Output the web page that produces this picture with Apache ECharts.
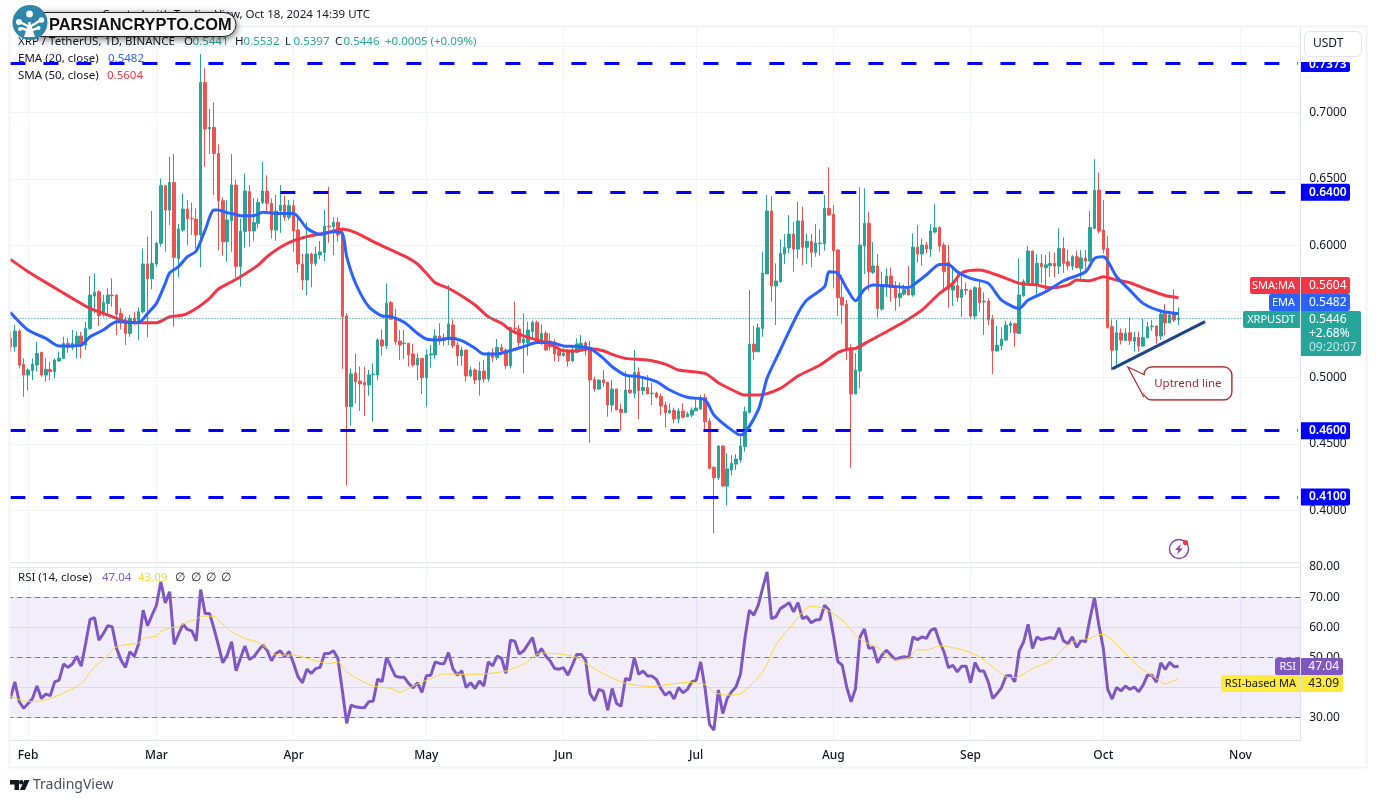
<!DOCTYPE html>
<html><head><meta charset="utf-8">
<style>html,body{margin:0;padding:0;background:#fff}#c{width:1376px;height:803px}</style>
<script src="https://cdn.jsdelivr.net/npm/echarts@6/dist/echarts.min.js"></script>
</head><body><div id="c"></div>
<script>
const opens=[.5297,.5234,.5352,.5100,.5020,.5053,.5096,.5191,.5020,.5063,
.5045,.5126,.5146,.5259,.5226,.5246,.5314,.5246,.5372,.5616,
.5649,.5485,.5561,.5624,.5624,.5485,.5440,.5334,.5448,.5410,
.5498,.5858,.5747,.5858,.6014,.6449,.6265,.6474,.5900,.6114,
.6273,.6202,.6197,.6077,.7229,.6879,.6889,.6693,.6336,.6026,
.6185,.6454,.5838,.6102,.6404,.6107,.6165,.6323,.6409,.6316,
.6114,.6258,.6303,.6210,.6298,.6115,.5858,.5738,.5934,.5863,
.5926,.5944,.6145,.6140,.6173,.6085,.5466,.4781,.5036,.4975,
.4963,.4945,.5023,.5021,.5285,.5240,.5567,.5441,.5277,.5257,
.5260,.5179,.5096,.5146,.5000,.5172,.5172,.5315,.5302,.5285,
.5398,.5247,.5164,.5209,.5013,.5058,.4983,.5051,.4990,.5189,
.5152,.5229,.5209,.5091,.5375,.5368,.5265,.5265,.5348,.5418,
.5272,.5335,.5277,.5234,.5202,.5167,.5197,.5126,.5192,.5214,
.5262,.5227,.4987,.4915,.4982,.4965,.4794,.4915,.4761,.4736,
.4907,.4882,.5040,.4902,.4927,.4879,.4884,.4859,.4794,.4736,
.4753,.4688,.4748,.4706,.4718,.4751,.4764,.4852,.4673,.4323,
.4245,.4484,.4182,.4303,.4348,.4379,.4479,.4736,.5254,.5196,
.5372,.5783,.6258,.5692,.5725,.5933,.5979,.6084,.5971,.6183,
.5984,.6029,.5946,.6012,.6009,.6278,.6233,.5964,.5606,.5554,
.5227,.4877,.5050,.5994,.6165,.5795,.5843,.5518,.5691,.5767,
.5686,.5603,.5631,.5666,.5624,.5986,.5933,.6001,.5971,.6099,
.6132,.6001,.5873,.5661,.5694,.5606,.5666,.5661,.5465,.5679,
.5573,.5578,.5442,.5201,.5241,.5284,.5392,.5407,.5334,.5618,
.5717,.5956,.5699,.5863,.5830,.5845,.5863,.5842,.5976,.5875,
.5842,.5913,.5825,.5903,.5880,.6127,.6416,.6114,.5976,.5385,
.5208,.5337,.5281,.5339,.5276,.5304,.5239,.5301,.5384,.5390,
.5314,.5485,.5415,.5480,.5441];
const closes=[.5234,.5352,.5095,.5020,.5058,.5103,.5183,.5020,.5063,.5045,
.5133,.5148,.5259,.5229,.5259,.5314,.5239,.5372,.5624,.5644,
.5468,.5568,.5624,.5619,.5480,.5430,.5334,.5448,.5415,.5498,
.5858,.5747,.5863,.6014,.6449,.6265,.6474,.5908,.6122,.6273,
.6202,.6200,.6077,.7229,.6877,.6889,.6693,.6336,.6026,.6190,
.6454,.5838,.6107,.6409,.6107,.6170,.6323,.6409,.6316,.6114,
.6258,.6303,.6210,.6298,.6108,.5858,.5738,.5934,.5863,.5934,
.5949,.6145,.6140,.6173,.6077,.5461,.4781,.5028,.4970,.4953,
.4945,.5021,.5028,.5285,.5240,.5562,.5441,.5272,.5247,.5262,
.5172,.5096,.5146,.5000,.5172,.5179,.5315,.5290,.5280,.5406,
.5242,.5164,.5209,.5013,.5058,.4983,.5051,.4990,.5189,.5152,
.5229,.5202,.5091,.5378,.5370,.5265,.5292,.5360,.5418,.5272,
.5335,.5209,.5234,.5179,.5167,.5184,.5126,.5209,.5255,.5260,
.5209,.4982,.4915,.4982,.4962,.4794,.4915,.4756,.4736,.4907,
.4887,.5040,.4902,.4927,.4877,.4884,.4854,.4786,.4736,.4753,
.4688,.4748,.4701,.4726,.4756,.4771,.4852,.4668,.4316,.4245,
.4484,.4182,.4311,.4353,.4386,.4484,.4743,.5254,.5196,.5377,
.5788,.6258,.5692,.5730,.5939,.5984,.6084,.5971,.6183,.5984,
.6029,.5946,.6017,.6017,.6278,.6228,.5959,.5604,.5549,.5209,
.4877,.5058,.6001,.6165,.5800,.5843,.5523,.5694,.5767,.5679,
.5603,.5636,.5666,.5624,.5986,.5933,.6001,.5971,.6107,.6132,
.5993,.5800,.5666,.5694,.5606,.5666,.5661,.5465,.5679,.5566,
.5578,.5435,.5201,.5246,.5291,.5397,.5410,.5339,.5624,.5729,
.5956,.5712,.5863,.5837,.5852,.5863,.5842,.5976,.5863,.5845,
.5913,.5832,.5903,.5880,.6134,.6416,.6107,.5968,.5377,.5208,
.5339,.5284,.5337,.5279,.5304,.5239,.5304,.5384,.5390,.5314,
.5480,.5415,.5473,.5435,.5446];
const highs=[.5347,.5397,.5365,.5146,.5070,.5146,.5271,.5196,.5146,.5121,
.5146,.5196,.5309,.5297,.5360,.5347,.5347,.5422,.5767,.5787,
.5660,.5624,.5674,.5750,.5630,.5523,.5460,.5473,.5498,.5531,
.5976,.6064,.6258,.6026,.6504,.6455,.6668,.6688,.6160,.6391,
.6341,.6321,.6278,.7443,.7335,.7028,.7078,.6761,.6360,.6341,
.6688,.6492,.6202,.6542,.6454,.6353,.6353,.6630,.6527,.6353,
.6379,.6454,.6374,.6341,.6342,.6203,.5934,.6173,.5944,.5989,
.6032,.6266,.6442,.6211,.6211,.6135,.5486,.5071,.5184,.5084,
.5084,.5058,.5109,.5297,.5365,.5712,.5579,.5519,.5360,.5360,
.5260,.5255,.5184,.5146,.5214,.5247,.5365,.5411,.5335,.5700,
.5441,.5272,.5234,.5209,.5084,.5071,.5121,.5134,.5197,.5222,
.5292,.5255,.5222,.5385,.5574,.5398,.5486,.5423,.5431,.5431,
.5403,.5355,.5335,.5290,.5255,.5222,.5214,.5234,.5297,.5323,
.5277,.5277,.5008,.4990,.5058,.4965,.4982,.4915,.4806,.5050,
.5008,.5209,.5078,.5008,.5020,.4962,.4894,.4882,.4819,.4806,
.4774,.4769,.4806,.4743,.4776,.4844,.4869,.4877,.4693,.4333,
.4492,.4492,.4429,.4416,.4424,.4555,.4781,.5662,.5393,.5410,
.5951,.6379,.6371,.5863,.6044,.6084,.6228,.6178,.6328,.6291,
.6089,.6084,.6160,.6120,.6379,.6588,.6303,.5969,.5775,.5586,
.5252,.5184,.6437,.6429,.6253,.6024,.5933,.5800,.5825,.5832,
.5729,.5719,.5704,.5842,.6089,.6152,.6051,.6026,.6159,.6310,
.6144,.6021,.6001,.5842,.5782,.5775,.5717,.5666,.5691,.5724,
.5644,.5598,.5473,.5392,.5380,.5430,.5427,.5415,.5900,.5742,
.5993,.5956,.5933,.5933,.5925,.5951,.5943,.6127,.6059,.5968,
.5925,.5958,.5963,.5963,.6258,.6650,.6549,.6341,.6069,.5440,
.5435,.5372,.5372,.5455,.5347,.5347,.5447,.5422,.5435,.5397,
.5515,.5556,.5505,.5666,.5532];
const lows=[.5196,.5196,.5070,.4856,.4902,.4982,.5045,.5007,.4970,.4982,
.4995,.5121,.5140,.5188,.5209,.5146,.5146,.5209,.5360,.5485,
.5390,.5460,.5473,.5536,.5322,.5365,.5246,.5309,.5397,.5284,
.5485,.5304,.5667,.5838,.5989,.5951,.6152,.5385,.5757,.6100,
.6001,.6077,.5976,.5833,.6592,.6688,.6379,.5963,.5921,.5875,
.5951,.5757,.5687,.5981,.5989,.6034,.6127,.6311,.6253,.6051,
.6034,.6094,.6185,.6190,.5952,.5792,.5662,.5624,.5682,.5843,
.5896,.5881,.6019,.5926,.6027,.5066,.4185,.4638,.4807,.4749,
.4711,.4865,.4668,.4983,.5167,.5217,.5436,.5247,.5134,.5141,
.5084,.5084,.4983,.4877,.4781,.5071,.5141,.5247,.5242,.5247,
.5222,.5091,.5091,.4970,.5003,.4953,.4865,.4965,.4970,.5121,
.5134,.5184,.5063,.5071,.5335,.5234,.5033,.5167,.5285,.5260,
.5247,.5204,.5204,.5126,.5121,.5159,.5084,.5121,.5184,.5209,
.5166,.4509,.4894,.4907,.4932,.4706,.4743,.4756,.4600,.4736,
.4877,.4844,.4688,.4869,.4877,.4794,.4844,.4718,.4623,.4726,
.4655,.4655,.4693,.4701,.4701,.4751,.4756,.4605,.4308,.3825,
.4228,.4177,.4034,.4265,.4303,.4358,.4442,.4731,.5133,.5196,
.5309,.5783,.5574,.5398,.5717,.5858,.5939,.5800,.5901,.5850,
.5858,.5833,.5913,.5921,.5959,.6220,.5674,.5466,.5405,.5133,
.4321,.4877,.4919,.5783,.5657,.5783,.5453,.5503,.5611,.5573,
.5505,.5535,.5619,.5624,.5611,.5870,.5845,.5938,.5913,.6089,
.5951,.5666,.5528,.5541,.5573,.5460,.5624,.5447,.5440,.5498,
.5322,.5397,.5027,.5196,.5208,.5279,.5334,.5234,.5329,.5611,
.5712,.5699,.5611,.5712,.5649,.5762,.5757,.5782,.5792,.5812,
.5812,.5825,.5737,.5812,.5875,.6122,.6089,.5938,.5372,.5057,
.5095,.5251,.5276,.5246,.5196,.5196,.5234,.5296,.5354,.5254,
.5284,.5322,.5410,.5420,.5397];
const rsiValues=[36.4,41.9,35.3,33.1,34.7,36.4,40.5,36.4,37.8,37.3,
41.9,42.5,47.8,46.7,47.8,50.4,47.1,54.6,62.6,63.2,
55.7,57.9,60.5,60.2,53.0,49.1,46.7,51.9,50.4,54.6,
65.7,60.5,64.0,67.3,75.1,68.1,71.8,54.3,57.7,61.0,
59.3,58.8,55.5,72.5,64.6,64.6,59.6,54.1,48.2,50.8,
55.2,45.6,49.7,53.8,49.3,50.2,52.2,54.1,52.4,48.9,
51.3,52.2,50.2,52.0,48.0,43.6,41.6,46.1,44.7,46.3,
46.7,51.3,51.3,52.2,49.7,39.2,28.1,34.2,33.6,33.4,
33.3,35.3,35.5,42.8,41.9,50.0,46.9,43.8,43.4,43.4,
41.4,39.9,41.6,38.4,43.9,44.1,48.5,48.0,47.9,51.6,
46.3,44.1,45.6,40.0,41.6,39.7,42.2,40.5,48.5,47.2,
50.4,49.7,44.7,55.7,55.4,51.1,52.2,54.4,56.6,50.5,
53.0,50.5,48.8,46.3,46.1,46.6,44.1,47.4,51.0,51.0,
49.1,38.0,35.6,39.4,38.8,32.5,39.7,34.7,33.8,43.0,
42.5,49.9,44.4,45.5,43.8,43.8,42.7,39.7,37.5,38.6,
36.2,40.0,38.3,39.4,41.9,42.5,48.5,39.7,27.8,25.9,
39.2,31.4,36.4,38.6,40.3,44.5,56.3,65.7,64.0,67.3,
72.9,78.4,62.9,63.5,66.2,67.1,68.2,65.1,68.2,62.9,
63.5,61.5,62.4,62.6,67.3,65.7,57.4,48.6,47.4,40.2,
35.3,39.7,56.8,59.4,53.0,53.3,48.2,50.8,52.4,50.8,
49.3,49.9,50.2,49.9,56.8,55.9,56.8,56.3,59.0,59.6,
55.2,51.8,46.6,47.4,45.2,47.1,47.1,41.6,48.3,45.5,
45.5,41.9,36.4,38.0,40.0,43.8,44.0,41.9,52.2,55.2,
61.0,53.0,56.8,55.9,56.3,56.6,56.2,59.8,55.5,54.6,
56.8,53.3,55.7,55.2,62.9,69.8,60.7,53.0,39.4,36.2,
40.0,38.9,40.5,39.4,40.2,38.6,40.8,44.1,44.1,41.8,
48.2,46.0,48.4,46.9,47.04];
// [candle index, value] read at visible turning points
const smaPoints=[[0,.5893],[4,.5800],[9,.5699],[14,.5599],[18,.5523],[21,.5485],[24,.5448],[26,.5422],[29,.5415],[33,.5415],[36,.5460],[39,.5473],[42,.5523],[45,.5599],[47,.5669],[50,.5724],[52,.5762],[56,.5850],[58,.5913],[61,.5984],[64,.6034],[67,.6065],[71,.6090],[75,.6120],[78,.6095],[82,.6027],[86,.5964],[89,.5919],[92,.5858],[94,.5788],[96,.5717],[99,.5675],[102,.5617],[105,.5549],[108,.5461],[111,.5411],[113,.5360],[116,.5315],[119,.5285],[122,.5255],[125,.5204],[128,.5202],[131,.5219],[134,.5204],[136,.5176],[139,.5146],[144,.5133],[148,.5103],[151,.5058],[157,.5033],[160,.4962],[164,.4894],[166,.4869],[169,.4869],[174,.4920],[178,.5013],[183,.5096],[187,.5189],[189,.5214],[191,.5221],[194,.5275],[198,.5347],[202,.5422],[206,.5510],[210,.5636],[213,.5712],[215,.5792],[219,.5812],[223,.5775],[228,.5712],[232,.5699],[235,.5679],[239,.5699],[241,.5737],[244,.5732],[247,.5762],[250,.5737],[253,.5717],[257,.5666],[261,.5621],[264,.5604]];
const emaPoints=[[0,.5493],[4,.5360],[8,.5297],[11,.5239],[16,.5246],[18,.5309],[21,.5360],[24,.5422],[29,.5417],[31,.5485],[33,.5561],[35,.5712],[36,.5792],[38,.5838],[40,.5913],[42,.5956],[44,.6114],[46,.6265],[47,.6265],[49,.6245],[50,.6240],[52,.6223],[55,.6223],[57,.6248],[61,.6240],[64,.6240],[67,.6128],[70,.6082],[73,.6102],[75,.6090],[76,.5914],[78,.5713],[81,.5536],[84,.5466],[86,.5461],[89,.5418],[92,.5335],[94,.5292],[97,.5285],[99,.5297],[102,.5280],[105,.5222],[107,.5179],[110,.5179],[113,.5204],[116,.5235],[119,.5265],[122,.5265],[125,.5240],[128,.5235],[131,.5221],[134,.5146],[136,.5083],[139,.5020],[142,.5008],[146,.4970],[149,.4907],[153,.4852],[157,.4832],[159,.4718],[162,.4630],[165,.4567],[169,.4756],[171,.4995],[174,.5209],[178,.5486],[180,.5586],[184,.5687],[185,.5800],[187,.5788],[189,.5674],[191,.5581],[193,.5667],[195,.5700],[199,.5691],[203,.5681],[204,.5699],[207,.5775],[210,.5855],[212,.5855],[214,.5800],[217,.5749],[221,.5712],[224,.5586],[228,.5523],[230,.5586],[234,.5649],[238,.5732],[243,.5800],[245,.5900],[247,.5913],[250,.5762],[253,.5661],[256,.5561],[260,.5503],[264,.5482]];
const rsiMaPoints=[[0,37.2],[2,36.0],[4,35.4],[7,35.6],[11,37.5],[16,41.4],[19,46.9],[21,49.4],[24,53.5],[29,54.8],[30,56.3],[33,57.1],[34,58.5],[36,59.8],[38,60.2],[40,61.8],[42,62.6],[43,63.7],[46,63.7],[47,62.4],[50,58.5],[53,56.3],[56,55.0],[58,53.0],[60,50.8],[64,50.8],[68,49.3],[72,48.0],[74,48.5],[76,45.2],[79,42.5],[82,40.5],[86,39.7],[88,38.4],[91,40.5],[95,43.0],[98,44.5],[103,44.4],[107,44.5],[112,45.5],[116,47.7],[120,51.5],[125,51.0],[128,50.0],[131,47.1],[135,43.9],[139,41.4],[145,40.3],[149,41.1],[153,41.7],[157,41.0],[159,38.4],[162,37.5],[165,38.0],[170,45.2],[173,54.1],[176,59.6],[181,67.0],[184,66.2],[188,62.4],[192,56.0],[196,53.3],[200,49.1],[203,49.8],[205,52.6],[207,52.4],[210,53.8],[215,52.6],[219,50.2],[222,46.9],[225,43.6],[227,43.3],[231,46.3],[235,48.9],[238,52.9],[241,55.7],[244,56.3],[246,57.6],[247,57.6],[252,51.3],[255,46.9],[259,43.0],[261,41.2],[264,43.09]];
const levels=[{v:.7373,from:0},{v:.64,from:61},{v:.46,from:0},{v:.41,from:0}];
const trendLine=[[249,.5066],[270,.5423]];
const calloutAnchor=[253,.5066];
const lastPrice=.5446;
const priceLabels=[.40,.45,.50,.60,.65,.70];
const priceGrid=[.40,.45,.50,.55,.60,.65,.70,.75];
const rsiLabels=[30,50,60,70,80];
const rsiGrid=[30,40,50,60,70,80];
const rsiDashed=[70,50,30];
const monthNames={'02':'Feb','03':'Mar','04':'Apr','05':'May','06':'Jun','07':'Jul','08':'Aug','09':'Sep','10':'Oct','11':'Nov'};
const categories=[];
for(let d=new Date(Date.UTC(2024,0,28));categories.length<292;d=new Date(d.getTime()+864e5))categories.push(d.toISOString().slice(0,10));

const FONT='"Noto Sans",sans-serif';
const SMALL='11.5px '+FONT;
const UP='#26a69a',DOWN='#ef5350';
const isMonth=(i,name)=>name.endsWith('-01');
const xBase={type:'category',data:categories,boundaryGap:true,
 axisTick:{show:false},axisPointer:{show:false},
 splitLine:{show:true,interval:isMonth,alignWithLabel:true,lineStyle:{color:'#f0f3fa',width:1}},
 axisLine:{show:true,onZero:false,lineStyle:{color:'#e0e3eb',width:1}}};
const chart=echarts.init(document.getElementById('c'),null,{renderer:'canvas'});
const lineLabel={show:false};
chart.setOption({
 animation:false,backgroundColor:'#fff',
 textStyle:{fontFamily:FONT},
 grid:[{left:8.2,width:1292,top:27,height:535},{left:8.2,width:1292,top:562.5,height:177.8}],
 xAxis:[Object.assign({},xBase,{gridIndex:0,axisLabel:{show:false}}),
  Object.assign({},xBase,{gridIndex:1,axisLabel:{show:true,interval:isMonth,margin:9,fontSize:12,fontWeight:500,color:'#131722',fontFamily:FONT,
   formatter:v=>monthNames[v.slice(5,7)]||''}})],
 yAxis:[{type:'value',gridIndex:0,position:'right',min:.3609,max:.7647,scale:true,
   axisLine:{show:true,lineStyle:{color:'#e0e3eb'}},axisTick:{show:false,customValues:priceGrid},
   axisLabel:{customValues:priceLabels,margin:9,fontSize:12,color:'#131722',fontFamily:FONT,formatter:v=>v.toFixed(4)},
   splitLine:{show:true,lineStyle:{color:'#f0f3fa'}}},
  {type:'value',gridIndex:1,position:'right',min:22.5,max:81.5,scale:true,
   axisLine:{show:true,lineStyle:{color:'#e0e3eb'}},axisTick:{show:false,customValues:rsiGrid},
   axisLabel:{customValues:rsiLabels,margin:9,fontSize:12,color:'#131722',fontFamily:FONT,formatter:v=>v.toFixed(2)},
   splitLine:{show:true,lineStyle:{color:'#e9e6f2'}}}],
 series:[
  {name:'XRPUSDT',type:'candlestick',xAxisIndex:0,yAxisIndex:0,barWidth:3,z:3,
   itemStyle:{color:UP,color0:DOWN,borderColor:UP,borderColor0:DOWN,borderWidth:1},
   data:opens.map((o,i)=>[o,closes[i],lows[i],highs[i]]),
   markLine:{silent:true,symbol:'none',animation:false,label:lineLabel,precision:4,
    data:[
     ...levels.map(l=>[{coord:[l.from,l.v],lineStyle:{color:'#0000ff',width:3,type:[15,18]}},{coord:[291,l.v]}]),
     [{coord:[0,lastPrice],lineStyle:{color:'#1f8f85',width:1,type:[1,2]}},{coord:[291,lastPrice]}],
     [{coord:trendLine[0],lineStyle:{color:'#1c4587',width:3,type:'solid'}},{coord:trendLine[1]}]
    ]}},
  {name:'SMA',type:'line',xAxisIndex:0,yAxisIndex:0,data:smaPoints,smooth:.25,showSymbol:false,z:4,lineStyle:{color:'#f23645',width:3}},
  {name:'EMA',type:'line',xAxisIndex:0,yAxisIndex:0,data:emaPoints,smooth:.25,showSymbol:false,z:5,lineStyle:{color:'#2962ff',width:3}},
  {name:'RSI',type:'line',xAxisIndex:1,yAxisIndex:1,data:rsiValues,showSymbol:false,z:4,lineStyle:{color:'#7e57c2',width:3},
   markArea:{silent:true,itemStyle:{color:'rgba(126,87,194,0.1)'},data:[[{yAxis:70},{yAxis:30}]]},
   markLine:{silent:true,symbol:'none',label:lineLabel,lineStyle:{color:'#787b86',width:1,type:[5,4]},
    data:rsiDashed.map(v=>({yAxis:v}))}},
  {name:'RSI MA',type:'line',xAxisIndex:1,yAxisIndex:1,data:rsiMaPoints,smooth:.25,showSymbol:false,z:5,lineStyle:{color:'#fdd835',width:1}}
 ]
});

const py=v=>chart.convertToPixel({yAxisIndex:0},v);
const rect=(x,y,w,h,fill,r)=>({type:'rect',z:50,shape:{x,y,width:w,height:h,r:r||0},style:{fill}});
const txt=(x,y,t,fill,o)=>({type:'text',z:(o&&o.z)||51,x,y,style:{text:t,fill,font:(o&&o.font)||SMALL,textVerticalAlign:'middle',textAlign:(o&&o.align)||'left'}});
const g=[];
// frame
g.push({type:'rect',z:40,shape:{x:0,y:0,width:9,height:803},style:{fill:'#fff'}});
g.push({type:'rect',z:41,shape:{x:9.5,y:26.5,width:1357,height:741},style:{fill:'none',stroke:'#f0f3fa',lineWidth:2}});
// level tags
levels.forEach(l=>{
 const y=py(l.v),top=l.v===.7373;
 const h=top?10:17,yy=top?y-1.3:y-8.5;
 g.push(rect(1301,yy,49,h,'#0000ff',[0,2,2,0]));
 g.push(txt(1309,top?y+1:y,l.v.toFixed(4),'#fff',{font:'600 12px '+FONT}));
});
// price tags
const tag=(xl,y,fill,name,val,vw,vh)=>{
 g.push(rect(xl,y,1300-xl,17,fill,[2,0,0,2]));
 g.push(txt(1295,y+8.5,name,'#fff',{align:'right',font:'11px '+FONT}));
 g.push(rect(1301,y,vw||49,vh||17,fill,[0,2,2,0]));
 g.push(txt(1309,y+8.5,val,'#fff',{font:'12px '+FONT}));
};
tag(1250,277,'#f23645','SMA:MA','0.5604');
tag(1269,294,'#2962ff','EMA','0.5482');
tag(1243,311,UP,'XRPUSDT','0.5446',60,45);
g.push(txt(1309,334,'+2.68%','#fff',{font:'12px '+FONT}));
g.push(txt(1309,348,'09:20:07','#bfe6e1',{font:'12px '+FONT}));
const rTag=(xl,y,fill,name,val,c)=>{
 g.push(rect(xl,y,1300-xl,17,fill,[2,0,0,2]));
 g.push(txt(1296,y+8.5,name,c,{align:'right',font:'11px '+FONT}));
 g.push(rect(1301,y,42,17,fill,[0,2,2,0]));
 g.push(txt(1339,y+8.5,val,c,{align:'right',font:'12px '+FONT}));
};
rTag(1275,658,'#7e57c2','RSI','47.04','#fff');
rTag(1221,675,'#ffeb3b','RSI-based MA','43.09','#131722');
// USDT button
g.push({type:'rect',z:50,shape:{x:1304.5,y:31.5,width:57,height:25,r:5},style:{fill:'#fff',stroke:'#e0e3eb',lineWidth:1}});
g.push(txt(1313,44,'USDT','#131722',{font:'12px '+FONT}));
// legend text
g.push(txt(370,15,'Created with TradingView, Oct 18, 2024 14:39 UTC','#131722',{align:'right'}));
g.push(txt(18,42,'XRP / TetherUS, 1D, BINANCE','#131722'));
[[184,'O','0.5441'],[235,'H','0.5532'],[285,'L','0.5397'],[335,'C','0.5446']].forEach(a=>{
 g.push(txt(a[0],42,a[1],'#131722'));
 g.push(txt(a[0]+8.5,42,a[2],UP));
});
g.push(txt(385,42,'+0.0005 (+0.09%)',UP));
g.push(txt(18,59,'EMA (20, close)','#131722'));g.push(txt(108,59,'0.5482','#2962ff'));
g.push(txt(18,76,'SMA (50, close)','#131722'));g.push(txt(107,76,'0.5604','#f23645'));
g.push(txt(18,578,'RSI (14, close)','#131722'));g.push(txt(102,578,'47.04','#7e57c2'));g.push(txt(138,578,'43.09','#fdd835'));
[175,191,206,221].forEach(x=>g.push(txt(x,578,'∅','#131722')));
// callout anchored on the trend level
const tip=chart.convertToPixel({xAxisIndex:0,yAxisIndex:0},calloutAnchor);
const tx=tip[0]-2,ty=tip[1]-2;
g.push({type:'rect',z:52,shape:{x:tx+16,y:ty,width:88,height:33,r:8},style:{fill:'#fff',stroke:'#a52a2a',lineWidth:1.2,shadowColor:'rgba(165,42,42,.35)',shadowBlur:1.5}});
g.push({type:'polygon',z:53,shape:{points:[[tx,ty],[tx+17.5,ty+8],[tx+17.5,ty+29]]},style:{fill:'#fff'}});
g.push({type:'polyline',z:54,shape:{points:[[tx+17,ty+8],[tx,ty],[tx+16,ty+30]]},style:{fill:'none',stroke:'#a52a2a',lineWidth:1.2}});
g.push(txt(tx+60,ty+17,'Uptrend line','#a52a2a',{align:'center',z:55}));
// event icon
g.push({type:'circle',z:50,shape:{cx:1179,cy:549,r:9.5},style:{fill:'#fff',stroke:'#8e3fb0',lineWidth:1.4}});
g.push({type:'polygon',z:51,shape:{points:[[1181,544],[1175,550],[1178.5,550],[1177,554.5],[1183,548.5],[1179.5,548.5]]},style:{fill:'#8e3fb0'}});
g.push({type:'circle',z:52,shape:{cx:1185.5,cy:542.5,r:2.6},style:{fill:'#f23645'}});
// TradingView mark
g.push({type:'polygon',z:50,shape:{points:[[10,780],[19,780],[19,790],[14.5,790],[14.5,784.5],[10,784.5]]},style:{fill:'#131722'}});
g.push({type:'circle',z:50,shape:{cx:21.2,cy:782.2,r:2.2},style:{fill:'#131722'}});
g.push({type:'polygon',z:50,shape:{points:[[24.5,780],[29.5,780],[25,790],[19.8,790]]},style:{fill:'#131722'}});
g.push(txt(33,785.5,'TradingView','#4a4e5a',{font:'14px '+FONT}));
// watermark
g.push({type:'rect',z:60,shape:{x:30,y:12.5,width:206,height:24,r:12},style:{fill:'#fff',stroke:'#222',lineWidth:1,shadowColor:'rgba(0,0,0,.55)',shadowBlur:7,shadowOffsetY:2}});
g.push({type:'circle',z:61,shape:{cx:30,cy:22.5,r:17.5},style:{fill:'#2e86ab'}});
[[[29.5,36],[29.5,22]],[[29.5,27],[20,22]],[[29.5,27],[41,20]],[[29.5,31],[21,28]],[[29.5,31],[38,28]]].forEach(s=>{
 g.push({type:'line',z:62,shape:{x1:s[0][0],y1:s[0][1],x2:s[1][0],y2:s[1][1]},style:{stroke:'#fff',lineWidth:2.4}});
});
[[29.5,14,3.4],[19,22,3],[41.5,20,2.8],[20,29,2],[38.5,28,2]].forEach(c=>g.push({type:'circle',z:62,shape:{cx:c[0],cy:c[1],r:c[2]},style:{fill:'#fff'}}));
g.push({type:'polygon',z:62,shape:{points:[[24,37],[35,37],[31.5,26],[27.5,26]]},style:{fill:'#fff'}});
g.push(txt(49,25,'PARSIANCRYPTO.COM','#111',{font:'bold 16.4px "Liberation Sans",sans-serif',z:63}));
chart.setOption({graphic:{elements:g}});
</script></body></html>
